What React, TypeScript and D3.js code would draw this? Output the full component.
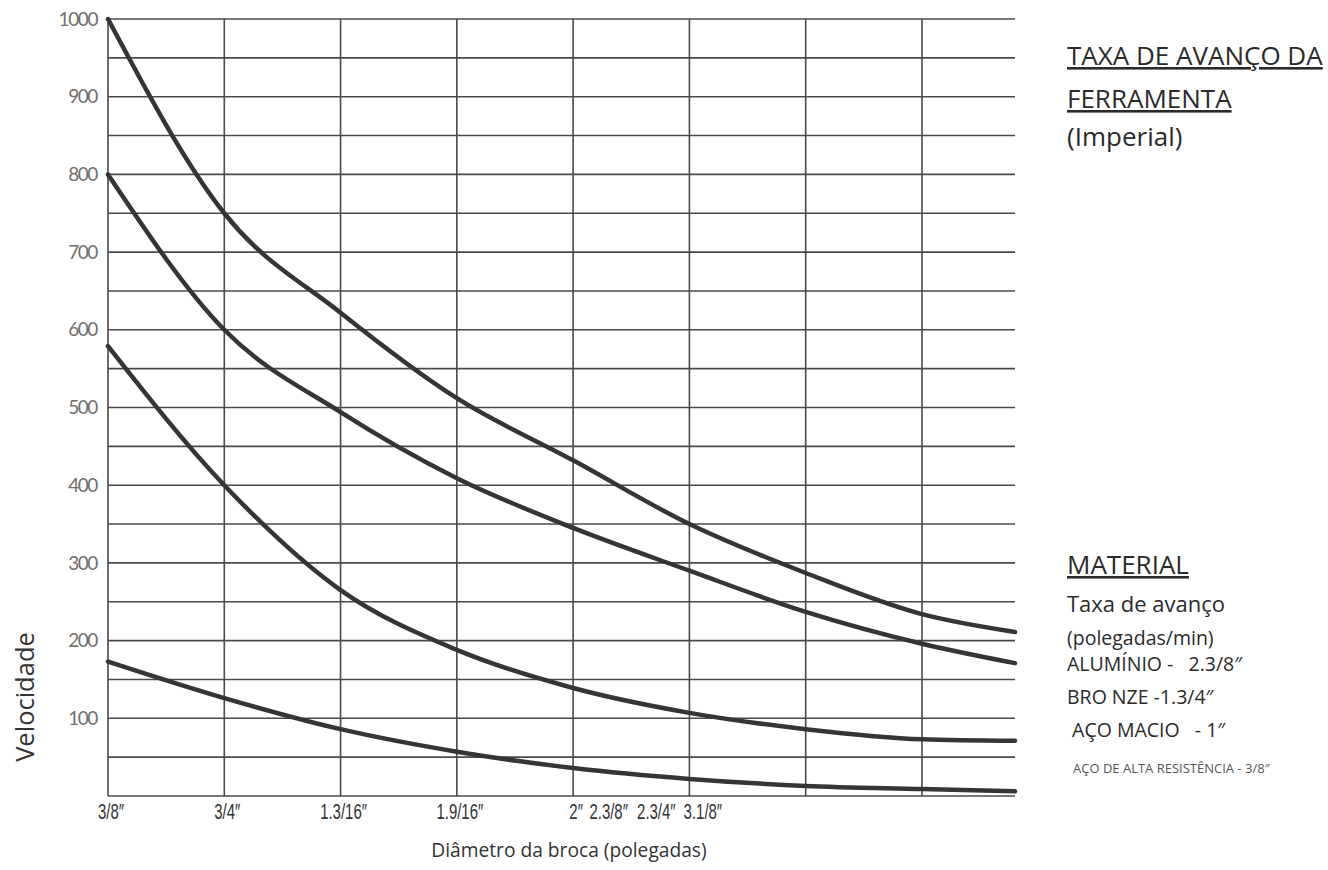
import React from 'react';
import * as d3 from 'd3';

// posição em colunas da grade (0 = 3/8", 1 = 3/4", ...)
const xPos = [0, 1, 2, 3, 4, 5, 6, 7, 7.8];

// velocidade lida no gráfico para cada material
const aluminio = [1000, 750, 622, 512, 432, 350, 287, 234, 211];
const bronze = [800, 600, 494, 409, 345, 290, 237, 196, 171];
const acoMacio = [579, 400, 265, 188, 139, 107, 86, 73, 71];
const acoAlta = [173, 126, 86, 57, 36, 22, 13, 9, 6];

const xTickLabels = ['3/8″', '3/4″', '1.3/16″', '1.9/16″', '2″', '2.3/8″', '2.3/4″', '3.1/8″'];
const xTickPos = [0, 1, 2, 3, 4, 4.28, 4.69, 5.09];
const yTickValues = [100, 200, 300, 400, 500, 600, 700, 800, 900, 1000];

const legendLines = [
  'ALUMÍNIO -   2.3/8″',
  'BRO NZE -1.3/4″',
  ' AÇO MACIO   - 1″',
];

const W = 1328;
const H = 870;

export default function App() {
  const x = d3.scaleLinear().domain([0, 7.8]).range([108, 1015]);
  const y = d3.scaleLinear().domain([0, 1000]).range([796, 19]);

  const line = d3.line<[number, number]>()
    .x(d => x(d[0]))
    .y(d => y(d[1]))
    .curve(d3.curveMonotoneX);

  const series = [aluminio, bronze, acoMacio, acoAlta];
  const hGrid = d3.range(0, 1001, 50);
  const vGrid = d3.range(0, 8);

  return (
    <svg width={W} height={H} style={{ position: 'absolute', left: 0, top: 0, background: '#fff' }}>
      {/* grade */}
      <g stroke="#4a4a4a" strokeWidth={1.6}>
        {hGrid.map(v => (
          <line key={'h' + v} x1={x(0)} x2={x(7.8)} y1={y(v)} y2={y(v)} />
        ))}
        {vGrid.map(i => (
          <line key={'v' + i} x1={x(i)} x2={x(i)} y1={y(0)} y2={y(1000)} />
        ))}
      </g>

      {/* curvas */}
      <g fill="none" stroke="#353535" strokeWidth={4.5} strokeLinecap="round">
        {series.map((s, i) => (
          <path key={i} d={line(s.map((v, j) => [xPos[j], v] as [number, number])) || ''} />
        ))}
      </g>

      {/* eixo y */}
      <g fontFamily="Lato, 'DejaVu Sans', sans-serif" fontSize={19} fill="#707070" textAnchor="end" letterSpacing={-1.4}>
        {yTickValues.map(v => (
          <text key={v} x={97} y={y(v)} dy="0.35em">{v}</text>
        ))}
      </g>

      {/* eixo x (fonte condensada) */}
      <g fontFamily="'Liberation Sans', Arial, sans-serif" fontSize={22} fill="#333" textAnchor="middle">
        {xTickLabels.map((t, i) => (
          <text key={t} transform={`translate(${x(xTickPos[i]) + 3},819) scale(0.68,1)`}>{t}</text>
        ))}
      </g>

      <text
        transform={`translate(34,697) rotate(-90)`}
        textAnchor="middle"
        fontFamily="'Open Sans', sans-serif"
        fontSize={25.5}
        fill="#333"
      >
        Velocidade
      </text>
      <text x={569} y={857} textAnchor="middle" fontFamily="'Open Sans', sans-serif" fontSize={19.2} fill="#333">
        Diâmetro da broca (polegadas)
      </text>

      {/* bloco de texto à direita */}
      <g fontFamily="'Open Sans', sans-serif" fill="#2a2a2a">
        <text x={1067} y={65} fontSize={26} textDecoration="underline">TAXA DE AVANÇO DA</text>
        <text x={1067} y={108} fontSize={26} textDecoration="underline">FERRAMENTA</text>
        <text x={1067} y={146} fontSize={26}>(Imperial)</text>

        <text x={1067} y={574} fontSize={26} textDecoration="underline">MATERIAL</text>
        <text x={1067} y={612} fontSize={22}>Taxa de avanço</text>
        <text x={1067} y={645} fontSize={19.5}>(polegadas/min)</text>
        {legendLines.map((t, i) => (
          <text key={t} x={1067} y={671 + i * 33} fontSize={19.5} style={{ whiteSpace: 'pre' }}>{t}</text>
        ))}
        <text x={1073} y={773} fontSize={13} fill="#555">AÇO DE ALTA RESISTÊNCIA - 3/8″</text>
      </g>
    </svg>
  );
}
